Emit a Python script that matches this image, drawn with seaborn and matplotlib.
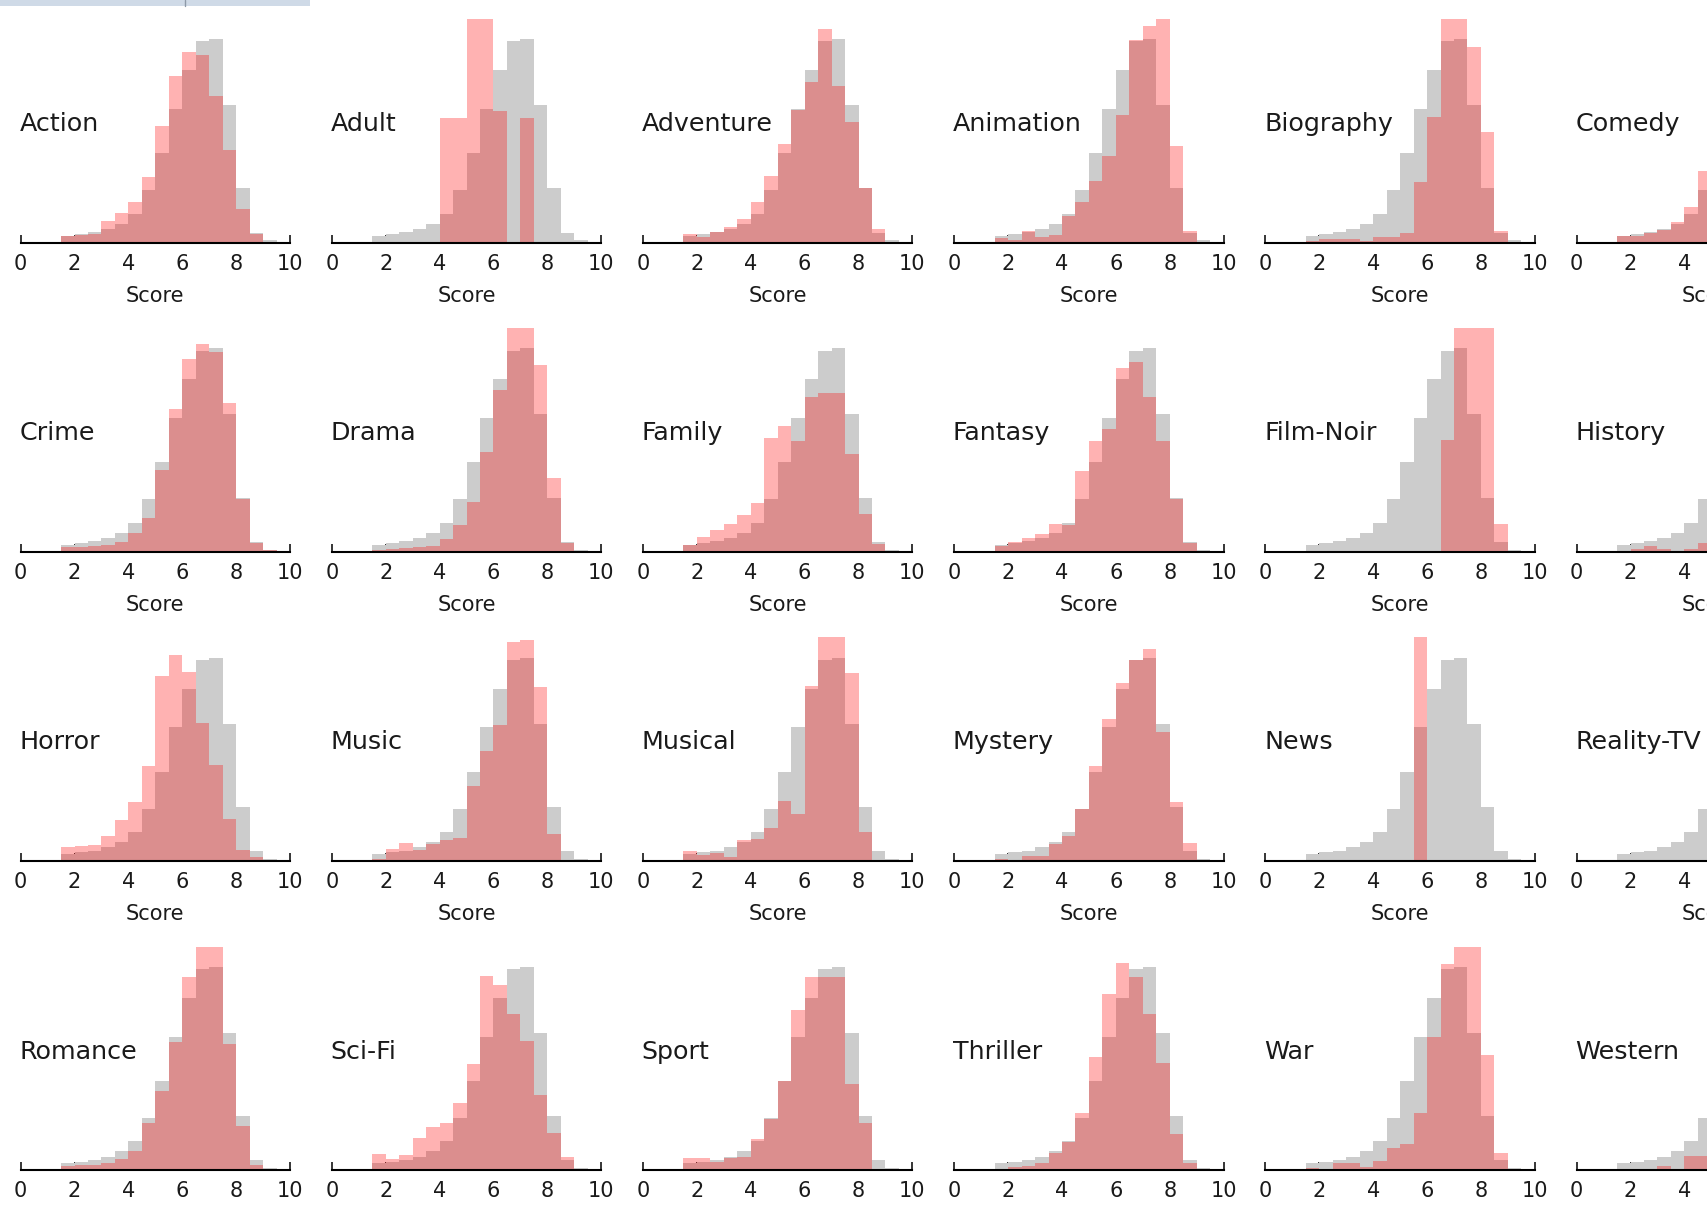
import numpy as np
import pandas as pd
import matplotlib
matplotlib.use("Agg")
import matplotlib.pyplot as plt
from matplotlib.patches import Rectangle
from matplotlib.lines import Line2D
import seaborn as sns

# ---------------- data ----------------
# score bins of width 0.5 from 1.5 to 9.5 (heights in units of the panel's y-range)
BIN_EDGES = [1.5, 2.0, 2.5, 3.0, 3.5, 4.0, 4.5, 5.0, 5.5, 6.0, 6.5, 7.0, 7.5, 8.0, 8.5, 9.0, 9.5]

ALL_MOVIES = [0.031, 0.038, 0.046, 0.060, 0.085, 0.128, 0.234, 0.400,
              0.597, 0.771, 0.900, 0.910, 0.614, 0.242, 0.043, 0.009]

genres = ["Action", "Adult", "Adventure", "Animation", "Biography", "Comedy",
          "Crime", "Drama", "Family", "Fantasy", "Film-Noir", "History",
          "Horror", "Music", "Musical", "Mystery", "News", "Reality-TV",
          "Romance", "Sci-Fi", "Sport", "Thriller", "War", "Western"]

action = [0.028, 0.034, 0.039, 0.096, 0.131, 0.182, 0.293, 0.520, 0.743, 0.854, 0.840, 0.654, 0.412, 0.151, 0.039, 0.0]
adult = [0, 0, 0, 0, 0, 0.557, 0.557, 1.11, 1.67, 0.59, 0, 0.557, 0, 0, 0, 0]
adventure = [0.037, 0.024, 0.046, 0.069, 0.106, 0.180, 0.296, 0.442, 0.594, 0.716, 0.957, 0.700, 0.537, 0.246, 0.061, 0.0]
animation = [0.022, 0.010, 0.052, 0.024, 0.034, 0.120, 0.180, 0.273, 0.385, 0.570, 0.904, 0.967, 1.02, 0.430, 0.052, 0.0]
biography = [0.005, 0.015, 0.015, 0.015, 0.007, 0.024, 0.024, 0.042, 0.270, 0.560, 1.10, 1.10, 0.873, 0.493, 0.052, 0.0]
comedy = [0.027, 0.030, 0.042, 0.057, 0.090, 0.158, 0.320, 0.52, 0.72, 0.86, 0.84, 0.72, 0.42, 0.14, 0.03, 0.0]
crime = [0.021, 0.021, 0.024, 0.030, 0.043, 0.084, 0.150, 0.365, 0.640, 0.860, 0.928, 0.895, 0.666, 0.236, 0.038, 0.009]
drama = [0.009, 0.012, 0.015, 0.019, 0.024, 0.055, 0.119, 0.222, 0.447, 0.723, 1.05, 1.05, 0.835, 0.330, 0.041, 0.0]
family = [0.029, 0.064, 0.095, 0.124, 0.163, 0.218, 0.508, 0.563, 0.494, 0.692, 0.710, 0.710, 0.437, 0.167, 0.034, 0.0]
fantasy = [0.026, 0.043, 0.060, 0.078, 0.126, 0.121, 0.361, 0.496, 0.551, 0.824, 0.850, 0.694, 0.496, 0.237, 0.041, 0.0]
film_noir = [0, 0, 0, 0, 0, 0, 0, 0, 0, 0, 0.50, 1.3, 1.6, 1.5, 0.124, 0.0]
history = [0.0, 0.012, 0.025, 0.012, 0.005, 0.012, 0.040, 0.10, 0.22, 0.45, 0.80, 1.0, 1.0, 0.55, 0.10, 0.0]
horror = [0.063, 0.068, 0.072, 0.111, 0.183, 0.265, 0.423, 0.828, 0.922, 0.845, 0.618, 0.430, 0.188, 0.051, 0.017, 0.0]
music = [0.010, 0.055, 0.082, 0.049, 0.075, 0.093, 0.104, 0.336, 0.490, 0.610, 0.978, 0.990, 0.776, 0.120, 0.0, 0.0]
musical = [0.046, 0.027, 0.037, 0.018, 0.093, 0.097, 0.149, 0.266, 0.209, 0.784, 1.05, 1.05, 0.839, 0.130, 0.0, 0.0]
mystery = [0.009, 0.005, 0.020, 0.020, 0.077, 0.111, 0.230, 0.423, 0.635, 0.794, 0.900, 0.947, 0.575, 0.265, 0.082, 0.0]
news = [0, 0, 0, 0, 0, 0, 0, 0, 5.0, 0, 0, 0, 0, 0, 0, 0]
reality_tv = [0, 0, 0, 0, 0, 0, 0, 0.3, 0.6, 0.9, 0.6, 0.3, 0, 0, 0, 0]
romance = [0.018, 0.021, 0.025, 0.033, 0.051, 0.085, 0.209, 0.354, 0.573, 0.864, 1.05, 1.05, 0.563, 0.197, 0.021, 0.0]
sci_fi = [0.070, 0.051, 0.067, 0.142, 0.194, 0.209, 0.299, 0.473, 0.869, 0.827, 0.697, 0.578, 0.336, 0.164, 0.060, 0.0]
sport = [0.055, 0.055, 0.036, 0.055, 0.060, 0.140, 0.230, 0.400, 0.715, 0.866, 0.866, 0.866, 0.384, 0.209, 0.0, 0.0]
thriller = [0.005, 0.012, 0.018, 0.030, 0.075, 0.127, 0.257, 0.507, 0.788, 0.925, 0.863, 0.697, 0.480, 0.160, 0.034, 0.0]
war = [0.010, 0.005, 0.033, 0.033, 0.015, 0.042, 0.097, 0.116, 0.254, 0.597, 0.922, 1.05, 1.05, 0.515, 0.078, 0.0]
western = [0, 0, 0, 0.02, 0, 0.063, 0.063, 0.25, 0.45, 0.70, 0.85, 0.80, 0.50, 0.20, 0.03, 0.0]

genre_values = [action, adult, adventure, animation, biography, comedy,
                crime, drama, family, fantasy, film_noir, history,
                horror, music, musical, mystery, news, reality_tv,
                romance, sci_fi, sport, thriller, war, western]

XTICKS = [0, 2, 4, 6, 8, 10]

# ---------------- style ----------------
sns.set_style("white")
plt.rcParams["font.family"] = ["DejaVu Sans"]
TEXT = "#1a1a1a"

W, H = 1708, 1209
fig = plt.figure(figsize=(W / 100, H / 100), dpi=100)

edges = np.array(BIN_EDGES)
centers = (edges[:-1] + edges[1:]) / 2

ax_w, ax_h = 269.3, 223.5
col_pitch, row_pitch = 311.2, 309.2
left0, bottom0 = 20.7, 242.5

for i, (genre, vals) in enumerate(zip(genres, genre_values)):
    r, c = divmod(i, 6)
    left = left0 + c * col_pitch
    bottom = bottom0 + r * row_pitch
    ax = fig.add_axes([left / W, 1 - bottom / H, ax_w / W, ax_h / H])
    df = pd.DataFrame({"score": centers, "all": ALL_MOVIES, "genre": vals})
    sns.histplot(data=df, x="score", weights="all", bins=list(BIN_EDGES), element="step",
                 fill=True, color="#cccccc", alpha=1.0, linewidth=0, ax=ax)
    sns.histplot(data=df, x="score", weights="genre", bins=list(BIN_EDGES), element="step",
                 fill=True, color="red", alpha=0.3, linewidth=0, ax=ax)
    ax.set_xlim(0, 10)
    ax.set_ylim(0, 1.0)
    ax.set_xticks(XTICKS)
    ax.yaxis.set_visible(False)
    for s in ("top", "right", "left"):
        ax.spines[s].set_visible(False)
    ax.spines["bottom"].set_linewidth(1.5)
    ax.spines["bottom"].set_color("black")
    ax.tick_params(axis="x", direction="in", length=5.5, width=1.1,
                   pad=8.0, labelsize=15, colors="black", labelcolor=TEXT,
                   top=False, bottom=True)
    ax.set_xlabel("Score", fontsize=15, color=TEXT, labelpad=8.8)
    ax.set_ylabel("")
    ax.text(-0.005, 0.53, genre, transform=ax.transAxes, ha="left",
            va="center", fontsize=18.3, color=TEXT)
    ax.set_facecolor("none")

# thin toolbar strip visible at the top-left corner of the reference
fig.add_artist(Rectangle((0, 1 - 6 / H), 310 / W, 6 / H, transform=fig.transFigure,
                         facecolor="#cfdae7", edgecolor="none"))
fig.add_artist(Line2D([185 / W, 185 / W], [1 - 6 / H, 1], transform=fig.transFigure,
                      color="#8e9aa8", linewidth=1))

fig.savefig("out.png", dpi=100, facecolor="white")
